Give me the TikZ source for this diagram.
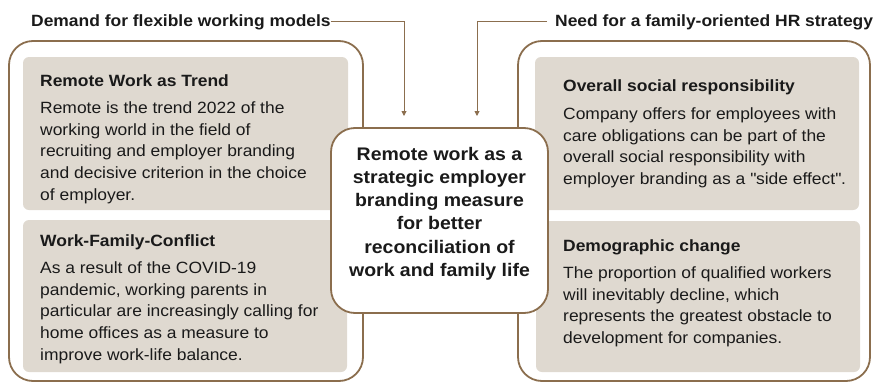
\documentclass[tikz,border=0pt]{standalone}
\usepackage{fontspec}
\setmainfont[FakeStretch=1.07]{Liberation Sans}
\usetikzlibrary{arrows.meta}

\definecolor{rimbrown}{RGB}{139,110,78}
\definecolor{cardgray}{RGB}{223,217,208}
\definecolor{inktext}{RGB}{26,26,26}

\tikzset{
  panel/.style={draw=rimbrown, line width=1.8pt, rounded corners=24pt},
  card/.style={fill=cardgray, rounded corners=6pt},
  hub/.style={draw=rimbrown, line width=1.8pt, fill=white, rounded corners=24pt,
    minimum width=217pt, minimum height=185pt, inner sep=0pt},
  hubtext/.style={anchor=north, inner sep=0pt, align=center, text=inktext,
    font=\fontsize{18.2}{23.2}\selectfont\bfseries},
  cardtitle/.style={anchor=base west, inner sep=0pt, text=inktext,
    font=\fontsize{16.3}{18}\selectfont\bfseries},
  cardbody/.style={anchor=north west, inner sep=0pt, align=left, text=inktext,
    font=\fontsize{16.3}{21.7}\selectfont},
  headlbl/.style={anchor=base west, inner sep=0pt, text=inktext,
    font=\fontsize{16.3}{18}\selectfont\bfseries},
  feed/.style={draw=rimbrown, line width=0.9pt, -{Triangle[length=5pt,width=5pt]}}
}

\begin{document}
\begin{tikzpicture}[x=1pt,y=-1pt]
  \useasboundingbox (0,0) rectangle (876,383);

  % outer panels
  \draw[panel] (9,41) rectangle (363,381);
  \draw[panel] (518,41) rectangle (870,381);

  % cards
  \fill[card] (23,57) rectangle (348,210);
  \fill[card] (23,220) rectangle (347,372);
  \fill[card] (535,57) rectangle (859,210);
  \fill[card] (536,221) rectangle (860,372);

  % left side
  \node[cardtitle] (trendT) at (40,86) {Remote Work as Trend};
  \node[cardbody] (trendB) at (40,101.5) {Remote is the trend 2022 of the\\
    working world in the field of\\
    recruiting and employer branding\\
    and decisive criterion in the choice\\
    of employer.};
  \node[cardtitle] (wfcT) at (40,246) {Work-Family-Conflict};
  \node[cardbody] (wfcB) at (40,261.5) {As a result of the COVID-19\\
    pandemic, working parents in\\
    particular are increasingly calling for\\
    home offices as a measure to\\
    improve work-life balance.};

  % right side
  \node[cardtitle] (socT) at (563,91) {Overall social responsibility};
  \node[cardbody] (socB) at (563,107.5) {Company offers for employees with\\
    care obligations can be part of the\\
    overall social responsibility with\\
    employer branding as a \textquotedbl side effect\textquotedbl.};
  \node[cardtitle] (demoT) at (563,251) {Demographic change};
  \node[cardbody] (demoB) at (563,266.5) {The proportion of qualified workers\\
    will inevitably decline, which\\
    represents the greatest obstacle to\\
    development for companies.};

  % centre
  \node[hub] (hub) at (439.5,220.5) {};
  \node[hubtext] (hubT) at (439.5,147) {Remote work as a\\
    strategic employer\\
    branding measure\\
    for better\\
    reconciliation of\\
    work and family life};

  % top labels and arrows
  \node[headlbl] (dem) at (31,26) {Demand for flexible working models};
  \node[headlbl] (need) at (555,26) {Need for a family-oriented HR strategy};
  \coordinate (dropL) at (404,116);
  \coordinate (dropR) at (477,116);
  \draw[feed] (dem.east) -| (dropL);
  \draw[feed] ([xshift=-8pt]need.west) -| (dropR);
\end{tikzpicture}
\end{document}
